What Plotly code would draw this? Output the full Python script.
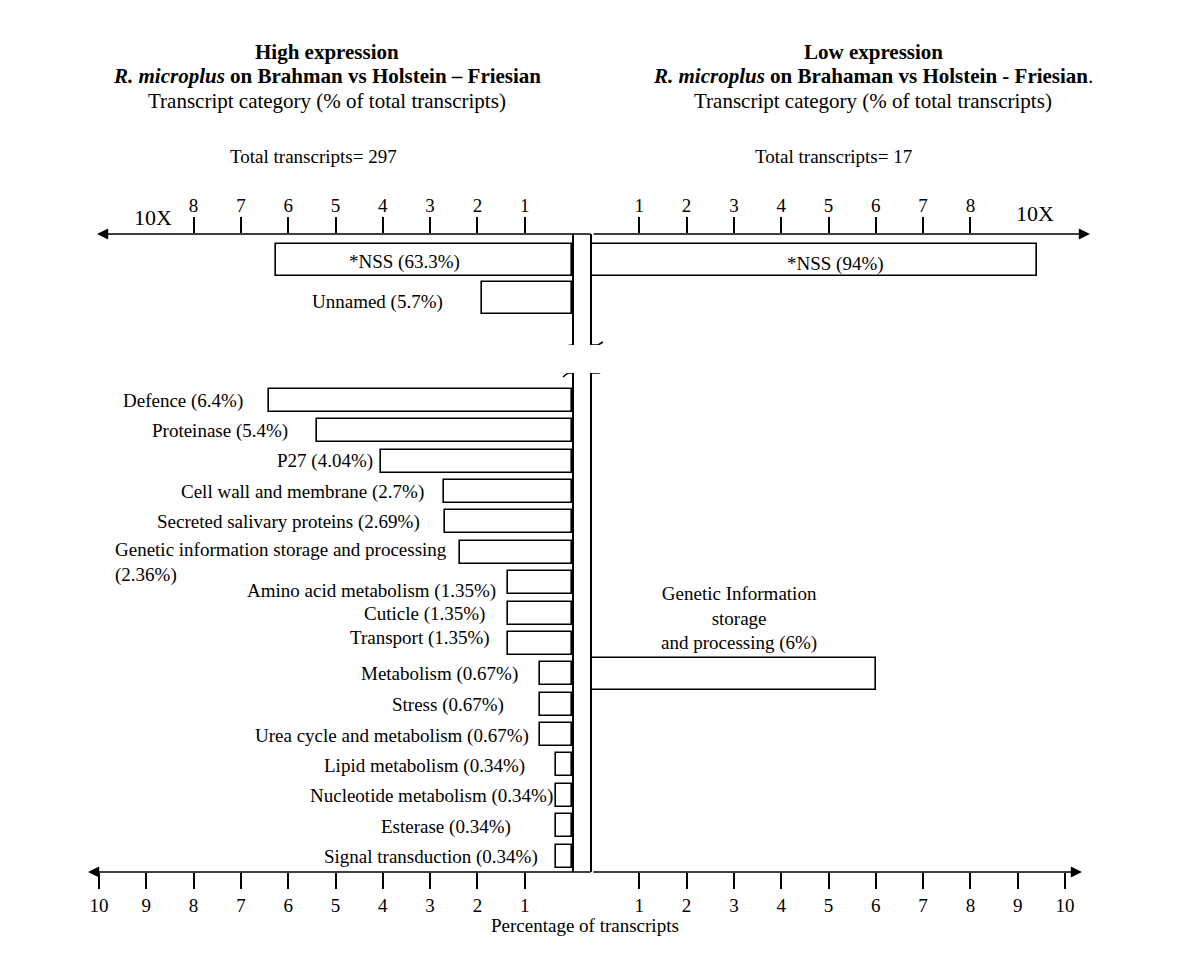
import plotly.graph_objects as go

# ---------------- data ----------------
high_top_labels = ["*NSS (63.3%)", "Unnamed (5.7%)"]
high_top_values = [6.25, 1.9]          # drawn on the 10X scale
low_top_labels = ["*NSS (94%)"]
low_top_values = [9.4]                 # drawn on the 10X scale

high_labels = [
    "Defence (6.4%)",
    "Proteinase (5.4%)",
    "P27 (4.04%)",
    "Cell wall and membrane (2.7%)",
    "Secreted salivary proteins (2.69%)",
    "Genetic information storage and processing<br>(2.36%)",
    "Amino acid metabolism (1.35%)",
    "Cuticle (1.35%)",
    "Transport (1.35%)",
    "Metabolism (0.67%)",
    "Stress (0.67%)",
    "Urea cycle and metabolism (0.67%)",
    "Lipid metabolism (0.34%)",
    "Nucleotide metabolism (0.34%)",
    "Esterase (0.34%)",
    "Signal transduction (0.34%)",
]
high_values = [6.4, 5.4, 4.04, 2.7, 2.69, 2.36, 1.35, 1.35, 1.35,
               0.67, 0.67, 0.67, 0.34, 0.34, 0.34, 0.34]

low_labels = ["Genetic Information<br>storage<br>and processing (6%)"]
low_values = [6.0]

top_tick_values = [1, 2, 3, 4, 5, 6, 7, 8]
top_tick_labels = ["1", "2", "3", "4", "5", "6", "7", "8"]
bottom_tick_values = [1, 2, 3, 4, 5, 6, 7, 8, 9, 10]
bottom_tick_labels = ["1", "2", "3", "4", "5", "6", "7", "8", "9", "10"]

high_scale_label = "10X"
low_scale_label = "10X"
x_title = "Percentage of transcripts"
left_titles = ["<b>High expression</b>",
               "<b><i>R. microplus</i> on Brahman vs Holstein \u2013 Friesian</b>",
               "Transcript category (% of total transcripts)"]
right_titles = ["<b>Low expression</b>",
                "<b><i>R. microplus</i> on Brahaman vs Holstein - Friesian</b>.",
                "Transcript category (% of total transcripts)"]
left_total = "Total transcripts= 297"
right_total = "Total transcripts= 17"

# ---------------- layout / style constants ----------------
OFF = 8                          # page body margin around the figure
W, H = 1200 - 2 * OFF, 960 - 2 * OFF
FONT = "Liberation Serif"
LW = 1.6
PXU = 47.3                      # pixels per axis unit
XL0, XR0 = 572, 592             # origins of the left / right axes (page px)
XL_END, XR_END = 88, 1084
YTOP, YBRK_T, YBRK_B, YBOT = 234, 345, 373, 872
ROW0, ROWH = 400.5, 30.37       # lower panel row pitch (px)
TROW0, TROWH = 259.5, 38.0      # upper panel row pitch (px)
low_row = 9                     # row where the low-expression bar sits
bar_w = 23 / ROWH
low_bar_w = 32 / ROWH
top_bar_w = 32 / TROWH
label_gap = [0.51, 0.57, 0.13, 0.38, 0.49, 0.23, 0.21, 0.44, 0.34,
             0.44, 0.72, 0.19, 0.61, 0.02, 0.91, 0.34]
label_dy = [0, 0, 0, 0, 0, 10, 8, 1, -5, 0, 1, 1, 1, 1, 1, 1]


def fx(p):
    return (p - OFF) / W


def py(p):
    return 1 - (p - OFF) / H


left_range = [(XL0 - XL_END) / PXU, 0]
right_range = [0, (XR_END - XR0) / PXU]
bot_range = [(YBOT - ROW0) / ROWH, (YBRK_B - ROW0) / ROWH]
top_range = [(YBRK_T - TROW0) / TROWH, (YTOP - TROW0) / TROWH]
gap_units = (XR0 - XL0) / PXU

bar_style = dict(color="white", line=dict(color="black", width=LW))

fig = go.Figure()
fig.add_trace(go.Bar(orientation="h", x=high_values, y=list(range(len(high_values))),
                     base=0, width=bar_w, marker=bar_style, xaxis="x", yaxis="y",
                     showlegend=False, hoverinfo="skip"))
fig.add_trace(go.Bar(orientation="h", x=low_values, y=[low_row] * len(low_values),
                     base=0, width=low_bar_w, marker=bar_style, xaxis="x2", yaxis="y2",
                     showlegend=False, hoverinfo="skip"))
fig.add_trace(go.Bar(orientation="h", x=high_top_values, y=list(range(len(high_top_values))),
                     base=0, width=top_bar_w, marker=bar_style, xaxis="x3", yaxis="y3",
                     showlegend=False, hoverinfo="skip"))
fig.add_trace(go.Bar(orientation="h", x=low_top_values, y=list(range(len(low_top_values))),
                     base=0, width=top_bar_w, marker=bar_style, xaxis="x4", yaxis="y4",
                     showlegend=False, hoverinfo="skip"))

tickfont = dict(family=FONT, size=19, color="black")
common_x = dict(showgrid=False, zeroline=False, showline=False, ticks="outside",
                ticklen=16, tickwidth=LW, tickcolor="black", tickfont=tickfont,
                fixedrange=True)
common_y = dict(showgrid=False, zeroline=False, showline=True, linecolor="black",
                linewidth=LW, showticklabels=False, ticks="", fixedrange=True)

left_dom = [fx(XL_END), fx(XL0)]
right_dom = [fx(XR0), fx(XR_END)]
bot_dom = [py(YBOT), py(YBRK_B)]
top_dom = [py(YBRK_T), py(YTOP)]

fig.update_layout(
    width=W, height=H, margin=dict(l=0, r=0, t=0, b=0),
    paper_bgcolor="white", plot_bgcolor="rgba(0,0,0,0)",
    bargap=0, showlegend=False,
    font=dict(family=FONT, size=19, color="black"),
    xaxis=dict(domain=left_dom, range=left_range, anchor="y", side="bottom",
               tickvals=bottom_tick_values, ticktext=bottom_tick_labels, **common_x),
    xaxis2=dict(domain=right_dom, range=right_range, anchor="y2", side="bottom",
                tickvals=bottom_tick_values, ticktext=bottom_tick_labels, **common_x),
    xaxis3=dict(domain=left_dom, range=left_range, anchor="y3", side="top",
                tickvals=top_tick_values, ticktext=top_tick_labels,
                ticklabelstandoff=-3, **common_x),
    xaxis4=dict(domain=right_dom, range=right_range, anchor="y4", side="top",
                tickvals=top_tick_values, ticktext=top_tick_labels,
                ticklabelstandoff=-3, **common_x),
    yaxis=dict(domain=bot_dom, range=bot_range, anchor="x", side="right", **common_y),
    yaxis2=dict(domain=bot_dom, range=bot_range, anchor="x2", side="left", **common_y),
    yaxis3=dict(domain=top_dom, range=top_range, anchor="x3", side="right", **common_y),
    yaxis4=dict(domain=top_dom, range=top_range, anchor="x4", side="left", **common_y),
)

ann = []
arrow = dict(text="", showarrow=True, arrowhead=2, arrowsize=1.4, arrowwidth=LW,
             arrowcolor="black", standoff=0)
# axis arrows (lower)
ann.append(dict(xref="x", yref="y", axref="x", ayref="y",
                x=(XL0 - XL_END) / PXU, y=bot_range[0], ax=-gap_units, ay=bot_range[0], **arrow))
ann.append(dict(xref="x2", yref="y2", axref="x2", ayref="y2",
                x=(1082 - XR0) / PXU, y=bot_range[0], ax=0, ay=bot_range[0], **arrow))
# axis arrows (upper)
ann.append(dict(xref="x3", yref="y3", axref="x3", ayref="y3",
                x=(XL0 - 97) / PXU, y=top_range[1], ax=-gap_units, ay=top_range[1], **arrow))
ann.append(dict(xref="x4", yref="y4", axref="x4", ayref="y4",
                x=(1090 - XR0) / PXU, y=top_range[1], ax=0, ay=top_range[1], **arrow))

# lower-left labels
for i, (lab, v) in enumerate(zip(high_labels, high_values)):
    ann.append(dict(xref="x", yref="y", x=v + label_gap[i], y=i, text=lab,
                    xanchor="right", yanchor="middle", align="left",
                    yshift=-label_dy[i], showarrow=False,
                    font=dict(family=FONT, size=19, color="black")))
# lower-right label
for lab, v in zip(low_labels, low_values):
    ann.append(dict(xref="x2", yref="y2", x=v / 2, y=low_row - low_bar_w / 2, text=lab,
                    xanchor="center", yanchor="bottom", align="center", xshift=5, yshift=2,
                    showarrow=False, font=dict(family=FONT, size=19, color="black")))
# upper labels
ann.append(dict(xref="x3", yref="y3", x=high_top_values[0] / 2, y=0, text=high_top_labels[0],
                xanchor="center", yanchor="middle", xshift=-20, yshift=-2, showarrow=False,
                font=dict(family=FONT, size=19, color="black")))
ann.append(dict(xref="x3", yref="y3", x=high_top_values[1] + 0.78, y=1, text=high_top_labels[1],
                xanchor="right", yanchor="middle", yshift=-4, showarrow=False,
                font=dict(family=FONT, size=19, color="black")))
ann.append(dict(xref="x4", yref="y4", x=low_top_values[0] / 2, y=0, text=low_top_labels[0],
                xanchor="center", yanchor="middle", xshift=21, yshift=-4, showarrow=False,
                font=dict(family=FONT, size=19, color="black")))

# 10X scale labels
ann.append(dict(xref="x3", yref="paper", x=(XL0 - 153) / PXU, y=py(218), text=high_scale_label,
                xanchor="center", yanchor="middle", showarrow=False,
                font=dict(family=FONT, size=22, color="black")))
ann.append(dict(xref="x4", yref="paper", x=(1035 - XR0) / PXU, y=py(213), text=low_scale_label,
                xanchor="center", yanchor="middle", showarrow=False,
                font=dict(family=FONT, size=22, color="black")))

# titles
for txt, yy in zip(left_titles, [52, 76, 101]):
    ann.append(dict(xref="paper", yref="paper", x=fx(327), y=py(yy), text=txt,
                    xanchor="center", yanchor="middle", showarrow=False,
                    font=dict(family=FONT, size=21, color="black")))
for txt, yy in zip(right_titles, [52, 76, 101]):
    ann.append(dict(xref="paper", yref="paper", x=fx(873), y=py(yy), text=txt,
                    xanchor="center", yanchor="middle", showarrow=False,
                    font=dict(family=FONT, size=21, color="black")))
ann.append(dict(xref="paper", yref="paper", x=fx(313), y=py(157), text=left_total,
                xanchor="center", yanchor="middle", showarrow=False,
                font=dict(family=FONT, size=19, color="black")))
ann.append(dict(xref="paper", yref="paper", x=fx(833), y=py(157), text=right_total,
                xanchor="center", yanchor="middle", showarrow=False,
                font=dict(family=FONT, size=19, color="black")))
ann.append(dict(xref="paper", yref="paper", x=fx(585), y=py(925), text=x_title,
                xanchor="center", yanchor="middle", showarrow=False,
                font=dict(family=FONT, size=19, color="black")))

fig.update_layout(annotations=ann)

# axis-break marks on the two central lines
brk = dict(type="path", xsizemode="pixel", ysizemode="pixel",
           line=dict(color="black", width=LW))
shapes = [
    dict(xref="x3", yref="y3", xanchor=0, yanchor=top_range[0],
         path="M-11,-4 L-6,-1 L0,0", **brk),
    dict(xref="x4", yref="y4", xanchor=0, yanchor=top_range[0],
         path="M0,0 L6,0 L11,3", **brk),
    dict(xref="x", yref="y", xanchor=0, yanchor=bot_range[1],
         path="M-9,-4 L-4,0 L0,0", **brk),
    dict(xref="x2", yref="y2", xanchor=0, yanchor=bot_range[1],
         path="M0,0 L7,0 L11,2", **brk),
]
fig.update_layout(shapes=shapes)

fig.write_html("out.html")
